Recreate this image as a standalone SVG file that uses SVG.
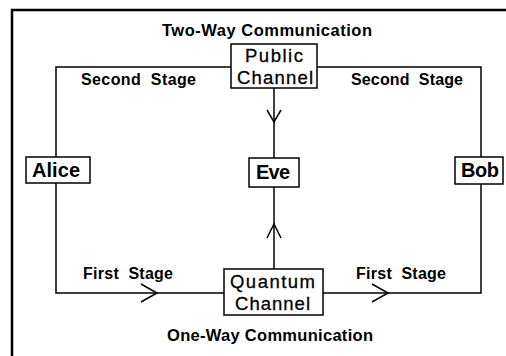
<svg xmlns="http://www.w3.org/2000/svg" width="506" height="356" viewBox="0 0 506 356">
<style>
.box{fill:#fff;stroke:#000;stroke-width:1.5}
.ln{fill:none;stroke:#000;stroke-width:1.5}
.arr{fill:none;stroke:#000;stroke-width:1.5;stroke-linejoin:miter}
.frame{fill:none;stroke:#000;stroke-width:2.5}
.lbl{font-family:"Liberation Sans",Arial,sans-serif;font-weight:bold;font-size:16px;fill:#000}
.ttl{font-family:"Liberation Sans",Arial,sans-serif;font-weight:bold;font-size:16.5px;fill:#000}
.nb{font-family:"Liberation Sans",Arial,sans-serif;font-weight:bold;font-size:20px;fill:#000}
.nr{font-family:"Liberation Sans",Arial,sans-serif;font-size:18.5px;fill:#000;stroke:#000;stroke-width:0.3}
</style>
<path class="frame" d="M12,356 V10 H506"/>
<g id="connectors">
<path class="ln" d="M231,67 H56 V293 H224"/>
<path class="ln" d="M317,67 H481 V293 H323"/>
<path class="ln" d="M274,88 V158"/>
<path class="ln" d="M274,187 V269"/>
<path class="arr" d="M267,110 L274,122 L281,110"/>
<path class="arr" d="M267,238 L274,224 L281,238"/>
<path class="arr" d="M141,284 L157,293 L141,302"/>
<path class="arr" d="M372,284 L388,293 L372,302"/>
</g>
<text class="ttl" x="162" y="36" textLength="210" lengthAdjust="spacing">Two-Way Communication</text>
<text class="ttl" x="167" y="341" textLength="206" lengthAdjust="spacing">One-Way Communication</text>
<text class="lbl" x="81" y="85" textLength="115" lengthAdjust="spacing" xml:space="preserve">Second  Stage</text>
<text class="lbl" x="351" y="85" textLength="112" lengthAdjust="spacing" xml:space="preserve">Second  Stage</text>
<text class="lbl" x="83" y="279" textLength="90" lengthAdjust="spacing" xml:space="preserve">First  Stage</text>
<text class="lbl" x="356" y="279" textLength="90" lengthAdjust="spacing" xml:space="preserve">First  Stage</text>
<g id="public">
<rect class="box" x="231" y="44" width="86" height="44"/>
<text class="nr" x="245" y="62" textLength="58" lengthAdjust="spacing">Public</text>
<text class="nr" x="237" y="83.5" textLength="76" lengthAdjust="spacing">Channel</text>
</g>
<g id="alice">
<rect class="box" x="26" y="157" width="64" height="26"/>
<text class="nb" x="32" y="177" textLength="48" lengthAdjust="spacing">Alice</text>
</g>
<g id="eve">
<rect class="box" x="249" y="158" width="50" height="29"/>
<text class="nb" x="256" y="179" textLength="34" lengthAdjust="spacing">Eve</text>
</g>
<g id="bob">
<rect class="box" x="455" y="157" width="48" height="27"/>
<text class="nb" x="461" y="177" textLength="38" lengthAdjust="spacing">Bob</text>
</g>
<g id="quantum">
<rect class="box" x="224" y="269" width="99" height="46"/>
<text class="nr" x="230" y="288" textLength="85" lengthAdjust="spacing">Quantum</text>
<text class="nr" x="235" y="309.5" textLength="75" lengthAdjust="spacing">Channel</text>
</g>
</svg>
